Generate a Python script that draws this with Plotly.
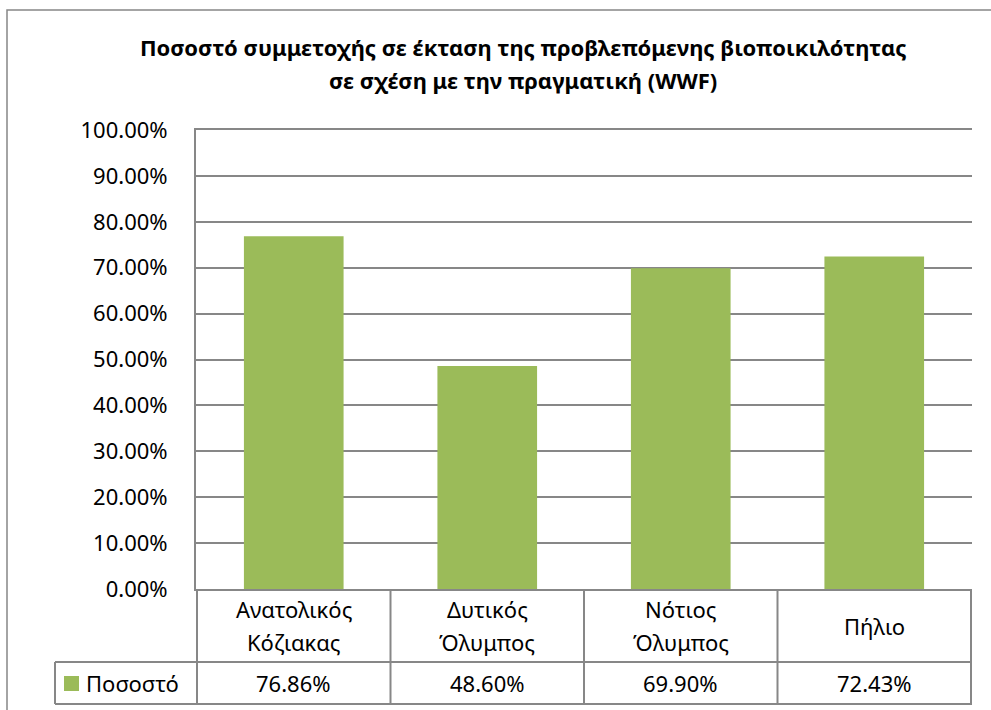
import plotly.graph_objects as go

# Data
categories = ["Ανατολικός Κόζιακας", "Δυτικός Όλυμπος", "Νότιος Όλυμπος", "Πήλιο"]
category_label_lines = [["Ανατολικός", "Κόζιακας"], ["Δυτικός", "Όλυμπος"],
                        ["Νότιος", "Όλυμπος"], ["Πήλιο"]]
values = [0.7686, 0.4860, 0.6990, 0.7243]
series_name = "Ποσοστό"
title_lines = ["Ποσοστό συμμετοχής σε έκταση της προβλεπόμενης βιοποικιλότητας",
               "σε σχέση με την πραγματική (WWF)"]

# Page / plot-area geometry (pixels)
W, H = 991, 710
L, R, T, B = 196, 972, 130, 589
ROW1_BOTTOM = 662
ROW2_BOTTOM = 704
LEGEND_LEFT = 55
LINE_GAP = 33

BAR_COLOR = "#9BBB59"
LINE_COLOR = "#878787"
FONT = "Noto Sans"
FS = 22


def xp(px):
    return (px - L) / (R - L)


def yp(py):
    return (B - py) / (B - T)


fig = go.Figure()
fig.add_trace(go.Bar(
    x=categories, y=values, name=series_name,
    marker=dict(color=BAR_COLOR, line=dict(width=0)),
    showlegend=False,
))

shapes = []
line = dict(color=LINE_COLOR, width=2)

# Outer chart frame
shapes.append(dict(type="rect", xref="paper", yref="paper",
                   x0=xp(7), x1=xp(1000), y0=yp(720), y1=yp(10),
                   line=dict(color=LINE_COLOR, width=1.5), layer="below"))

# Data table: horizontal rules
for py in (ROW1_BOTTOM, ROW2_BOTTOM):
    shapes.append(dict(type="line", xref="paper", yref="paper",
                       x0=xp(LEGEND_LEFT), x1=1, y0=yp(py), y1=yp(py), line=line))
# Data table: vertical rules at category boundaries
n = len(categories)
for i in range(n + 1):
    shapes.append(dict(type="line", xref="x", yref="paper",
                       x0=i - 0.5, x1=i - 0.5, y0=yp(ROW2_BOTTOM), y1=0, line=line))
# Legend cell left edge
shapes.append(dict(type="line", xref="paper", yref="paper",
                   x0=xp(LEGEND_LEFT), x1=xp(LEGEND_LEFT),
                   y0=yp(ROW2_BOTTOM), y1=yp(ROW1_BOTTOM), line=line))
# Legend key square
shapes.append(dict(type="rect", xref="paper", yref="paper",
                   x0=xp(64), x1=xp(79), y0=yp(691), y1=yp(676),
                   fillcolor=BAR_COLOR, line=dict(width=0)))

annotations = []
txt_font = dict(size=FS, color="black", family=FONT)
row1_mid = (B + ROW1_BOTTOM) / 2
row2_mid = (ROW1_BOTTOM + ROW2_BOTTOM) / 2
for cat, lines, v in zip(categories, category_label_lines, values):
    first = row1_mid - LINE_GAP * (len(lines) - 1) / 2
    for k, t in enumerate(lines):
        annotations.append(dict(x=cat, xref="x", y=yp(first + k * LINE_GAP), yref="paper",
                                text=t, showarrow=False, font=txt_font,
                                xanchor="center", yanchor="middle"))
    annotations.append(dict(x=cat, xref="x", y=yp(row2_mid), yref="paper",
                            text=f"{v:.2%}", showarrow=False, font=txt_font,
                            xanchor="center", yanchor="middle"))
annotations.append(dict(x=xp(84), xref="paper", y=yp(row2_mid), yref="paper",
                        text=series_name, showarrow=False, font=txt_font,
                        xanchor="left", yanchor="middle"))
# Title
for k, t in enumerate(title_lines):
    annotations.append(dict(x=xp(523), xref="paper", y=yp(47 + k * LINE_GAP), yref="paper",
                            text=f"<b>{t}</b>", showarrow=False, font=txt_font,
                            xanchor="center", yanchor="middle"))

fig.update_layout(
    width=W, height=H,
    margin=dict(l=L, r=W - R, t=T, b=H - B, pad=0),
    paper_bgcolor="white", plot_bgcolor="white",
    bargap=0.485,
    font=dict(family=FONT, size=FS, color="black"),
    shapes=shapes,
    annotations=annotations,
    xaxis=dict(showticklabels=False, showgrid=False, zeroline=False,
               showline=True, mirror=True, linecolor=LINE_COLOR, linewidth=2,
               ticks=""),
    yaxis=dict(range=[0, 1], dtick=0.1, tickformat=".2%",
               showgrid=True, gridcolor=LINE_COLOR, gridwidth=2,
               zeroline=False, showline=True, linecolor=LINE_COLOR, linewidth=2,
               ticks="", ticklabelstandoff=22,
               tickfont=dict(size=FS, family=FONT, color="black")),
)

fig.write_html("out.html")
